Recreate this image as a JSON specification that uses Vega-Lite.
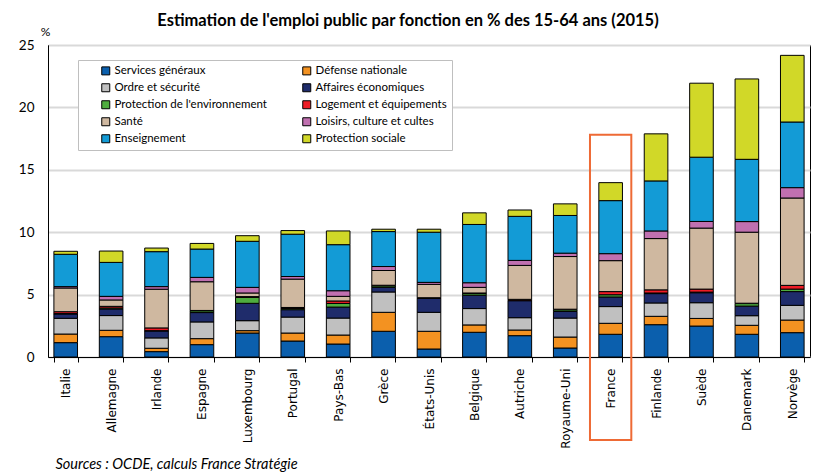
{
  "$schema": "https://vega.github.io/schema/vega-lite/v6.json",
  "autosize": "none",
  "width": 762,
  "height": 312,
  "padding": {"left": 48, "top": 45, "right": 7, "bottom": 115},
  "background": "white",
  "title": {
    "text": "Estimation de l'emploi public par fonction en % des 15-64 ans (2015)",
    "font": "Lato",
    "fontSize": 16.5,
    "fontWeight": "bold",
    "color": "#000000",
    "anchor": "middle",
    "dx": -21,
    "offset": 0,
    "dy": 4
  },
  "datasets": {
    "fonctions": [
      {"k": "sg", "fonction": "Services généraux", "n": 1},
      {"k": "def", "fonction": "Défense nationale", "n": 2},
      {"k": "ord", "fonction": "Ordre et sécurité", "n": 3},
      {"k": "aff", "fonction": "Affaires économiques", "n": 4},
      {"k": "env", "fonction": "Protection de l'environnement", "n": 5},
      {"k": "log", "fonction": "Logement et équipements", "n": 6},
      {"k": "san", "fonction": "Santé", "n": 7},
      {"k": "loi", "fonction": "Loisirs, culture et cultes", "n": 8},
      {"k": "ens", "fonction": "Enseignement", "n": 9},
      {"k": "ps", "fonction": "Protection sociale", "n": 10}
    ],
    "pays": [
      {"pays": "Italie", "sg": 1.15, "def": 0.69, "ord": 1.26, "aff": 0.35, "env": 0.03, "log": 0.15, "san": 1.90, "loi": 0.11, "ens": 2.59, "ps": 0.24},
      {"pays": "Allemagne", "sg": 1.63, "def": 0.51, "ord": 1.18, "aff": 0.53, "env": 0.08, "log": 0.13, "san": 0.51, "loi": 0.29, "ens": 2.72, "ps": 0.91},
      {"pays": "Irlande", "sg": 0.43, "def": 0.27, "ord": 0.83, "aff": 0.56, "env": 0.02, "log": 0.22, "san": 3.10, "loi": 0.21, "ens": 2.80, "ps": 0.29},
      {"pays": "Espagne", "sg": 0.99, "def": 0.48, "ord": 1.34, "aff": 0.75, "env": 0.14, "log": 0.03, "san": 2.30, "loi": 0.35, "ens": 2.27, "ps": 0.45},
      {"pays": "Luxembourg", "sg": 1.92, "def": 0.19, "ord": 0.80, "aff": 1.39, "env": 0.48, "log": 0.06, "san": 0.29, "loi": 0.45, "ens": 3.69, "ps": 0.45},
      {"pays": "Portugal", "sg": 1.28, "def": 0.64, "ord": 1.28, "aff": 0.59, "env": 0.10, "log": 0.08, "san": 2.27, "loi": 0.21, "ens": 3.39, "ps": 0.29},
      {"pays": "Pays-Bas", "sg": 1.04, "def": 0.72, "ord": 1.36, "aff": 0.88, "env": 0.29, "log": 0.20, "san": 0.37, "loi": 0.45, "ens": 3.69, "ps": 1.10},
      {"pays": "Grèce", "sg": 2.06, "def": 1.52, "ord": 1.63, "aff": 0.37, "env": 0.12, "log": 0.05, "san": 1.18, "loi": 0.32, "ens": 2.80, "ps": 0.19},
      {"pays": "États-Unis", "sg": 0.64, "def": 1.42, "ord": 1.52, "aff": 1.12, "env": 0.02, "log": 0.03, "san": 1.07, "loi": 0.16, "ens": 4.02, "ps": 0.24},
      {"pays": "Belgique", "sg": 1.98, "def": 0.59, "ord": 1.31, "aff": 1.07, "env": 0.13, "log": 0.05, "san": 0.45, "loi": 0.37, "ens": 4.67, "ps": 0.93},
      {"pays": "Autriche", "sg": 1.71, "def": 0.45, "ord": 0.99, "aff": 1.36, "env": 0.03, "log": 0.08, "san": 2.72, "loi": 0.40, "ens": 3.53, "ps": 0.51},
      {"pays": "Royaume-Uni", "sg": 0.72, "def": 0.88, "ord": 1.52, "aff": 0.53, "env": 0.13, "log": 0.05, "san": 4.22, "loi": 0.27, "ens": 3.02, "ps": 0.93},
      {"pays": "France", "sg": 1.82, "def": 0.88, "ord": 1.34, "aff": 0.77, "env": 0.18, "log": 0.25, "san": 2.48, "loi": 0.56, "ens": 4.25, "ps": 1.44},
      {"pays": "Finlande", "sg": 2.59, "def": 0.67, "ord": 1.07, "aff": 0.75, "env": 0.05, "log": 0.25, "san": 4.11, "loi": 0.61, "ens": 4.01, "ps": 3.77},
      {"pays": "Suède", "sg": 2.48, "def": 0.61, "ord": 1.26, "aff": 0.80, "env": 0.05, "log": 0.24, "san": 4.89, "loi": 0.53, "ens": 5.15, "ps": 5.93},
      {"pays": "Danemark", "sg": 1.82, "def": 0.72, "ord": 0.77, "aff": 0.77, "env": 0.20, "log": 0.03, "san": 5.69, "loi": 0.85, "ens": 4.99, "ps": 6.44},
      {"pays": "Norvège", "sg": 1.95, "def": 1.01, "ord": 1.18, "aff": 1.10, "env": 0.20, "log": 0.30, "san": 7.00, "loi": 0.83, "ens": 5.26, "ps": 5.34}
    ],
    "cadre": [
      {"pays": "France", "haut": 17.8, "bas": -6.65}
    ]
  },
  "config": {
    "view": {"stroke": "#000000", "strokeWidth": 1},
    "font": "Lato"
  },
  "layer": [
    {
      "data": {"name": "pays"},
      "transform": [
        {"fold": ["sg", "def", "ord", "aff", "env", "log", "san", "loi", "ens", "ps"], "as": ["k", "valeur"]},
        {"lookup": "k", "from": {"data": {"name": "fonctions"}, "key": "k", "fields": ["fonction", "n"]}}
      ],
      "mark": {"type": "bar", "stroke": "#000000", "strokeWidth": 1},
      "encoding": {
        "x": {
          "field": "pays",
          "type": "nominal",
          "sort": null,
          "scale": {"paddingInner": 0.48, "paddingOuter": 0.13},
          "axis": {
            "labelAngle": -90,
            "labelFont": "DejaVu Sans",
            "labelFontSize": 12,
            "labelColor": "#000000",
            "labelPadding": 6,
            "tickSize": 5,
            "tickColor": "#000000",
            "tickBand": "extent",
            "domainColor": "#000000",
            "title": "Sources : OCDE, calculs France Stratégie",
            "titleFont": "Lato",
            "titleFontSize": 14.5,
            "titleFontStyle": "italic",
            "titleFontWeight": "normal",
            "titleColor": "#000000",
            "titleAnchor": "start",
            "titleAlign": "left",
            "titleBaseline": "alphabetic",
            "titleX": 7,
            "titleY": 111
          }
        },
        "y": {
          "field": "valeur",
          "type": "quantitative",
          "stack": "zero",
          "scale": {"domain": [0, 25], "nice": false},
          "axis": {
            "values": [0, 5, 10, 15, 20, 25],
            "gridColor": "#d9d9d9",
            "gridWidth": 2,
            "ticks": false,
            "labelFont": "Lato",
            "labelFontSize": 13.5,
            "labelColor": "#000000",
            "labelPadding": 14,
            "domainColor": "#000000",
            "title": "%",
            "titleAngle": 0,
            "titleFont": "Lato",
            "titleFontSize": 12,
            "titleFontWeight": "normal",
            "titleColor": "#000000",
            "titleAlign": "center",
            "titleBaseline": "alphabetic",
            "titleX": -3,
            "titleY": -10
          }
        },
        "color": {
          "field": "fonction",
          "type": "nominal",
          "scale": {
            "domain": ["Services généraux", "Ordre et sécurité", "Protection de l'environnement", "Santé", "Enseignement", "Défense nationale", "Affaires économiques", "Logement et équipements", "Loisirs, culture et cultes", "Protection sociale"],
            "range": ["#0b5fad", "#c0c0c0", "#4fad3f", "#cfb8a0", "#139bd6", "#f39221", "#1f2c6b", "#ee1c25", "#c070b0", "#d1d828"]
          },
          "legend": {
            "title": null,
            "orient": "none",
            "legendX": 30,
            "legendY": 15,
            "direction": "vertical",
            "columns": 2,
            "columnPadding": 17,
            "rowPadding": 4,
            "padding": 5,
            "symbolOffset": 17,
            "symbolType": "square",
            "symbolSize": 64,
            "symbolStrokeColor": "#000000",
            "symbolStrokeWidth": 1,
            "labelFont": "Lato",
            "labelFontSize": 11.5,
            "labelColor": "#000000",
            "labelOffset": 3,
            "labelLimit": 300,
            "strokeColor": "#bfbfbf",
            "fillColor": "#ffffff"
          }
        },
        "order": {"field": "n", "type": "quantitative", "sort": "ascending"}
      }
    },
    {
      "data": {"name": "cadre"},
      "mark": {"type": "bar", "width": {"band": 1.75}, "fillOpacity": 0, "stroke": "#ee6a35", "strokeWidth": 2, "clip": false},
      "encoding": {
        "x": {"field": "pays", "type": "nominal", "sort": null},
        "y": {"field": "haut", "type": "quantitative"},
        "y2": {"field": "bas"}
      }
    }
  ]
}
